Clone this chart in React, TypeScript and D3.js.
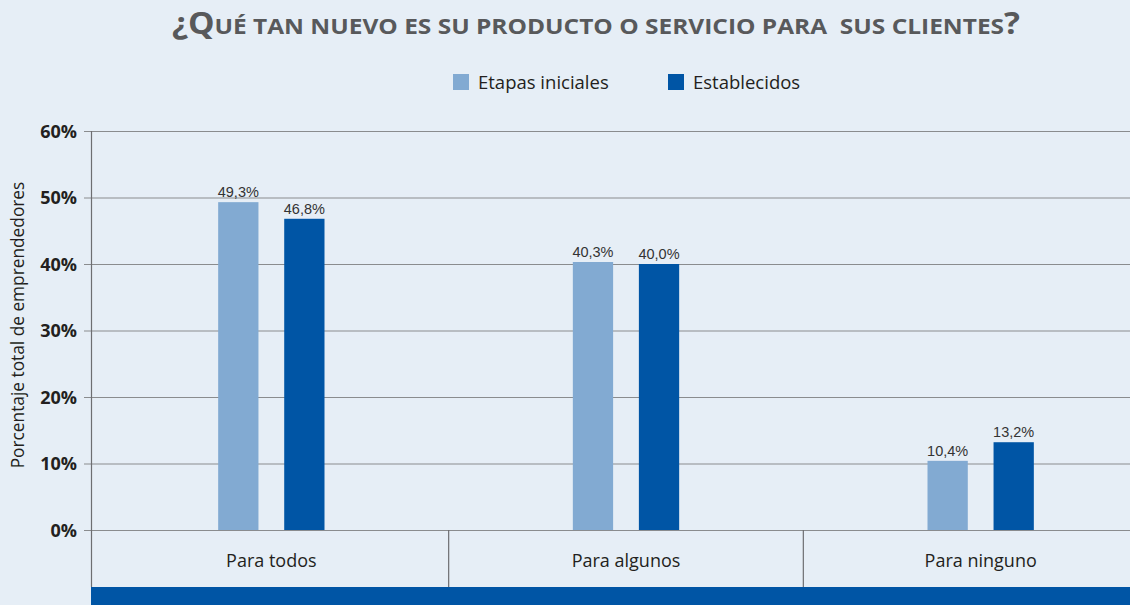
import React, { useEffect, useRef } from 'react';
import * as d3 from 'd3';

const categories = ['Para todos', 'Para algunos', 'Para ninguno'];
const series = ['Etapas iniciales', 'Establecidos'];
const etapasIniciales = [49.3, 40.3, 10.4];
const establecidos = [46.8, 40.0, 13.2];
const yTicks = [0, 10, 20, 30, 40, 50, 60];

const colors = ['#82aad2', '#0055a5'];
const WIDTH = 1130;
const HEIGHT = 605;

const App: React.FC = () => {
  const svgRef = useRef<SVGSVGElement>(null);

  useEffect(() => {
    document.body.style.margin = '0';
    if (!svgRef.current) return;
    const svg = d3.select(svgRef.current);
    svg.selectAll('*').remove();

    const left = 91;
    const top = 131;
    const bottom = 530;
    const boxBottom = 587;
    const font = '"Open Sans", sans-serif';

    svg.append('rect')
      .attr('width', WIDTH)
      .attr('height', HEIGHT)
      .attr('fill', '#e6eef6');

    // Title (small caps style)
    const title = svg.append('text')
      .attr('x', 596)
      .attr('y', 34)
      .attr('text-anchor', 'middle')
      .attr('font-family', font)
      .attr('font-weight', 700)
      .attr('fill', '#58595b')
      .attr('textLength', 848)
      .attr('lengthAdjust', 'spacingAndGlyphs')
      .style('white-space', 'pre');
    title.append('tspan').attr('font-size', 30).text('¿Q');
    title.append('tspan').attr('font-size', 22).text('UÉ TAN NUEVO ES SU PRODUCTO O SERVICIO PARA  SUS CLIENTES');
    title.append('tspan').attr('font-size', 30).text('?');

    // Legend
    const legendX = [453, 668];
    series.forEach((s, i) => {
      svg.append('rect')
        .attr('x', legendX[i])
        .attr('y', 74)
        .attr('width', 16)
        .attr('height', 16)
        .attr('fill', colors[i]);
      svg.append('text')
        .attr('x', legendX[i] + 25)
        .attr('y', 89)
        .attr('font-family', font)
        .attr('font-size', 18.5)
        .attr('fill', '#231f20')
        .text(s);
    });

    const y = d3.scaleLinear().domain([0, 60]).range([bottom, top]);
    const x0 = d3.scaleBand<string>().domain(categories).range([left + 3, 1158]);
    const x1 = d3.scaleBand<string>()
      .domain(series)
      .range([0, x0.bandwidth()])
      .paddingInner(0.39)
      .paddingOuter(1.88);

    // Gridlines + ticks
    svg.append('g')
      .selectAll('line')
      .data(yTicks)
      .join('line')
      .attr('x1', 84)
      .attr('x2', WIDTH)
      .attr('y1', d => y(d) + 0.5)
      .attr('y2', d => y(d) + 0.5)
      .attr('stroke', '#8a8c8e')
      .attr('stroke-width', 1.2);

    svg.append('g')
      .selectAll('text')
      .data(yTicks)
      .join('text')
      .attr('x', 77)
      .attr('y', d => y(d) + 6.5)
      .attr('text-anchor', 'end')
      .attr('font-family', font)
      .attr('font-weight', 700)
      .attr('font-size', 18)
      .attr('fill', '#231f20')
      .text(d => `${d}%`);

    svg.append('text')
      .attr('transform', `translate(24,325) rotate(-90)`)
      .attr('text-anchor', 'middle')
      .attr('font-family', font)
      .attr('font-size', 17.3)
      .attr('fill', '#231f20')
      .text('Porcentaje total de emprendedores');

    // Bars
    const data = categories.map((c, i) => ({
      category: c,
      values: [etapasIniciales[i], establecidos[i]],
    }));

    const groups = svg.append('g')
      .selectAll('g')
      .data(data)
      .join('g')
      .attr('transform', d => `translate(${x0(d.category)},0)`);

    groups.selectAll('rect')
      .data(d => d.values.map((v, i) => ({ key: series[i], value: v, i })))
      .join('rect')
      .attr('x', d => x1(d.key)!)
      .attr('y', d => y(d.value))
      .attr('width', x1.bandwidth())
      .attr('height', d => bottom - y(d.value))
      .attr('fill', d => colors[d.i]);

    groups.selectAll('text')
      .data(d => d.values.map((v, i) => ({ key: series[i], value: v, i })))
      .join('text')
      .attr('x', d => x1(d.key)! + x1.bandwidth() / 2)
      .attr('y', d => y(d.value) - 5)
      .attr('text-anchor', 'middle')
      .attr('font-family', '"Liberation Sans", Arial, sans-serif')
      .attr('font-size', 14.5)
      .attr('fill', '#333333')
      .text(d => `${d.value.toFixed(1).replace('.', ',')}%`);

    // Vertical axis line
    svg.append('line')
      .attr('x1', left + 0.5)
      .attr('x2', left + 0.5)
      .attr('y1', top)
      .attr('y2', boxBottom)
      .attr('stroke', '#6d6e71')
      .attr('stroke-width', 1.2);

    // Category dividers
    svg.append('g')
      .selectAll('line')
      .data(categories.slice(1))
      .join('line')
      .attr('x1', d => x0(d)!)
      .attr('x2', d => x0(d)!)
      .attr('y1', bottom)
      .attr('y2', boxBottom)
      .attr('stroke', '#6d6e71')
      .attr('stroke-width', 1.2);

    svg.append('g')
      .selectAll('text')
      .data(categories)
      .join('text')
      .attr('x', d => x0(d)! + x0.bandwidth() / 2)
      .attr('y', 567)
      .attr('text-anchor', 'middle')
      .attr('font-family', font)
      .attr('font-size', 18)
      .attr('fill', '#231f20')
      .text(d => d);

    // Bottom band
    svg.append('rect')
      .attr('x', left)
      .attr('y', boxBottom)
      .attr('width', WIDTH - left)
      .attr('height', HEIGHT - boxBottom)
      .attr('fill', '#0055a5');
  }, []);

  return (
    <svg ref={svgRef} width={WIDTH} height={HEIGHT} style={{ display: 'block' }} />
  );
};

export default App;
